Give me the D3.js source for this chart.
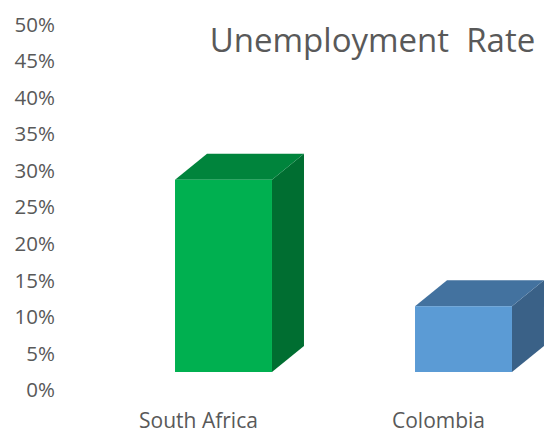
<!DOCTYPE html>
<html><head><meta charset="utf-8">
<script src="https://cdn.jsdelivr.net/npm/d3@7"></script>
<style>html,body{margin:0;padding:0;background:#fff;overflow:hidden}</style>
</head><body>
<svg id="c" width="546" height="434"></svg>
<script>
const categories = ["South Africa", "Colombia"];
const values = [26.3, 9.0];
const yTicks = [0, 5, 10, 15, 20, 25, 30, 35, 40, 45, 50];
const title = "Unemployment\u00a0\u00a0Rate";
const frontColors = ["#00B050", "#5B9BD5"];
const topColors = ["#00843C", "#43729F"];
const sideColors = ["#006E31", "#3A6187"];

const svg = d3.select("#c");
const font = "'Open Sans', 'Noto Sans', sans-serif";

const y = d3.scaleLinear().domain([0, 50]).range([390, 24.5]);
const x = d3.scaleBand().domain(categories).range([103.5, 583.5]).paddingInner(0.596).paddingOuter(0.298);
const depthX = 32, depthY = -26, frontShift = -18, labelShift = -25;

// y axis labels
svg.append("g").selectAll("text").data(yTicks).join("text")
  .attr("x", 55).attr("y", d => y(d)).attr("dy", "0.35em")
  .attr("text-anchor", "end")
  .style("font-family", font).style("font-size", "20.5px").attr("fill", "#595959")
  .text(d => d + "%");

// bars
const bars = svg.append("g").selectAll("g").data(categories.map((c, i) => ({c, v: values[i], i}))).join("g");
bars.each(function(d) {
  const g = d3.select(this);
  const x0 = x(d.c), x1 = x(d.c) + x.bandwidth();
  const yb = y(0) + frontShift, yt = y(d.v) + frontShift;
  const pts = a => a.map(p => p.join(",")).join(" ");
  g.append("polygon").attr("points", pts([[x1, yt], [x1 + depthX, yt + depthY], [x1 + depthX, yb + depthY], [x1, yb]]))
    .attr("fill", sideColors[d.i]);
  g.append("polygon").attr("points", pts([[x0, yt], [x0 + depthX, yt + depthY], [x1 + depthX, yt + depthY], [x1, yt]]))
    .attr("fill", topColors[d.i]);
  g.append("rect").attr("x", x0).attr("y", yt).attr("width", x1 - x0).attr("height", yb - yt)
    .attr("fill", frontColors[d.i]);
});

// x labels
svg.append("g").selectAll("text").data(categories).join("text")
  .attr("x", d => x(d) + x.bandwidth() / 2 + labelShift).attr("y", 428)
  .attr("text-anchor", "middle")
  .style("font-family", font).style("font-size", "21px").attr("fill", "#595959")
  .text(d => d);

// title
svg.append("text").attr("x", 372.5).attr("y", 52).attr("text-anchor", "middle")
  .style("font-family", font).style("font-size", "33px").attr("fill", "#595959")
  .text(title);
</script>
</body></html>
